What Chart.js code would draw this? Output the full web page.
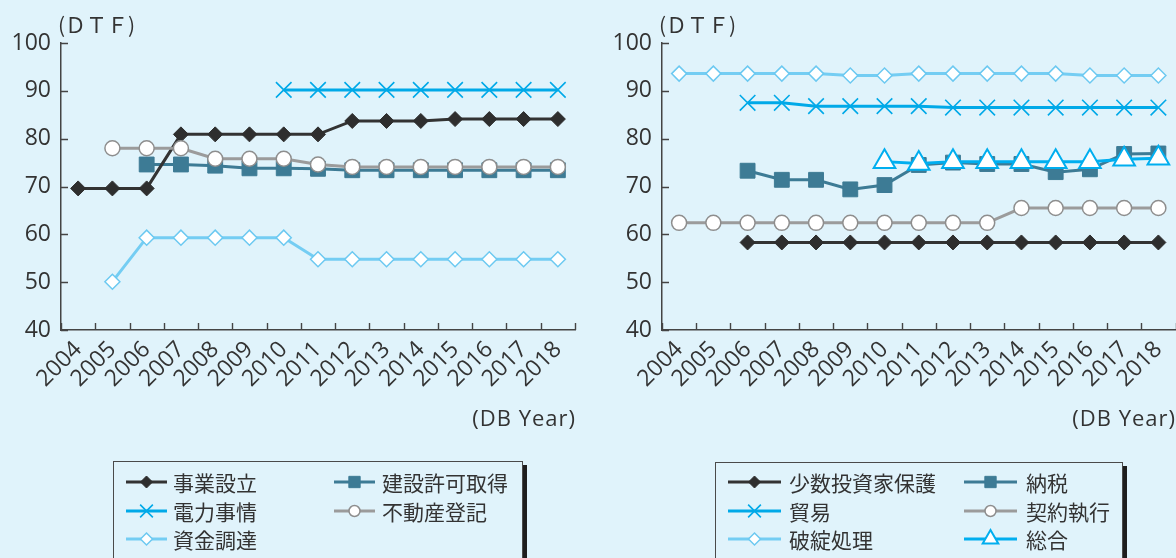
<!DOCTYPE html>
<html lang="ja">
<head>
<meta charset="utf-8">
<title>DTF</title>
<script src="https://cdn.jsdelivr.net/npm/chart.js@4.4.1/dist/chart.umd.min.js"></script>
<style>
  html, body { margin: 0; padding: 0; background: #e0f3fb; }
  #wrap { position: relative; width: 1176px; height: 558px; overflow: hidden; background: #e0f3fb; }
  canvas { position: absolute; top: 0; }
  #left { left: 0; }
  #right { left: 590px; }
</style>
</head>
<body>
<div id="wrap">
  <canvas id="left" width="590" height="558"></canvas>
  <canvas id="right" width="600" height="558"></canvas>
</div>
<script>
// Categories and axis ticks
const years = ['2004','2005','2006','2007','2008','2009','2010','2011','2012','2013','2014','2015','2016','2017','2018'];
const yTickValues = [40, 50, 60, 70, 80, 90, 100];
const yUnitLabel = '(ＤＴＦ)';
const xUnitLabel = '(DB Year)';

// Left panel series
const startingBusiness     = [69.6, 69.6, 69.6, 80.9, 80.9, 80.9, 80.9, 80.9, 83.7, 83.7, 83.7, 84.1, 84.1, 84.1, 84.1];
const constructionPermits  = [null, null, 74.6, 74.6, 74.35, 73.8, 73.8, 73.7, 73.4, 73.4, 73.4, 73.4, 73.4, 73.4, 73.4];
const gettingElectricity   = [null, null, null, null, null, null, 90.2, 90.2, 90.2, 90.2, 90.2, 90.2, 90.2, 90.2, 90.2];
const registeringProperty  = [null, 78.0, 78.0, 78.0, 75.8, 75.8, 75.8, 74.6, 74.1, 74.1, 74.1, 74.1, 74.1, 74.1, 74.1];
const gettingCredit        = [null, 50.1, 59.3, 59.3, 59.3, 59.3, 59.3, 54.8, 54.8, 54.8, 54.8, 54.8, 54.8, 54.8, 54.8];

// Right panel series
const protectingInvestors  = [null, null, 58.3, 58.3, 58.3, 58.3, 58.3, 58.3, 58.3, 58.3, 58.3, 58.3, 58.3, 58.3, 58.3];
const payingTaxes          = [null, null, 73.3, 71.4, 71.4, 69.4, 70.3, 74.5, 75.0, 74.7, 74.7, 73.0, 73.6, 76.8, 76.9];
const tradingAcrossBorders = [null, null, 87.5, 87.5, 86.8, 86.8, 86.8, 86.8, 86.5, 86.5, 86.5, 86.5, 86.5, 86.5, 86.5];
const enforcingContracts   = [62.4, 62.4, 62.4, 62.4, 62.4, 62.4, 62.4, 62.4, 62.4, 62.4, 65.5, 65.5, 65.5, 65.5, 65.5];
const resolvingInsolvency  = [93.6, 93.6, 93.6, 93.6, 93.6, 93.2, 93.2, 93.6, 93.6, 93.6, 93.6, 93.6, 93.2, 93.2, 93.2];
const overallScore         = [null, null, null, null, null, null, 75.2, 74.8, 75.2, 75.2, 75.2, 75.2, 75.2, 75.7, 75.9];

// Marker / line looks
const looks = {
  dark:  { borderColor: '#333333', pointStyle: 'rectRot',  pointRadius: 7.5, pointBackgroundColor: '#2e2e2e', pointBorderColor: '#2e2e2e', pointBorderWidth: 1,   legendRadius: 6 },
  teal:  { borderColor: '#3d7b95', pointStyle: 'rect',     pointRadius: 10.5, pointBackgroundColor: '#3d7b95', pointBorderColor: '#3d7b95', pointBorderWidth: 1, legendRadius: 8 },
  cross: { borderColor: '#00a9e8', pointStyle: 'crossRot', pointRadius: 11,  pointBackgroundColor: '#00a9e8', pointBorderColor: '#00a9e8', pointBorderWidth: 1.6, legendRadius: 9 },
  grey:  { borderColor: '#9b9b9b', pointStyle: 'circle',   pointRadius: 7.5, pointBackgroundColor: '#ffffff', pointBorderColor: '#8e8e8e', pointBorderWidth: 1.5, legendRadius: 5.5 },
  sky:   { borderColor: '#74cdf3', pointStyle: 'rectRot',  pointRadius: 7.5, pointBackgroundColor: '#ffffff', pointBorderColor: '#6cc9f1', pointBorderWidth: 1.5, legendRadius: 6 },
  tri:   { borderColor: '#00aeef', pointStyle: 'triangle', pointRadius: 12.5, pointBackgroundColor: '#ffffff', pointBorderColor: '#00aeef', pointBorderWidth: 2, legendRadius: 9 }
};

function series(label, data, look, order) {
  return Object.assign({ label, data, order, borderWidth: 3, tension: 0, spanGaps: false,
    pointHoverRadius: look.pointRadius }, look);
}

const FONT = "'Open Sans', 'Noto Sans', sans-serif";
const JP_FONT = "'Noto Sans CJK JP', sans-serif";

// Inward tick marks, unit captions and the boxed legend
const panelDecor = {
  id: 'panelDecor',
  afterDraw(chart, args, o) {
    const { ctx, chartArea: a, scales: { x, y } } = chart;
    ctx.save();
    ctx.strokeStyle = '#444';
    ctx.lineWidth = 1.4;
    ctx.beginPath();
    const n = x.ticks.length;
    const step = (a.right - a.left) / n;
    for (let i = 0; i <= n; i++) {
      const px = Math.round(a.left + i * step) + 0.5;
      ctx.moveTo(px, a.bottom);
      ctx.lineTo(px, a.bottom - 7);
    }
    y.ticks.forEach(t => {
      const py = Math.round(y.getPixelForValue(t.value)) + 0.5;
      ctx.moveTo(a.left, py);
      ctx.lineTo(a.left + 7, py);
    });
    ctx.stroke();

    ctx.fillStyle = '#333';
    ctx.textBaseline = 'alphabetic';
    ctx.textAlign = 'left';
    ctx.font = '21px ' + JP_FONT;
    ctx.fillText(yUnitLabel, a.left - 3, 33);
    ctx.textAlign = 'right';
    ctx.font = '22px ' + FONT;
    if ('letterSpacing' in ctx) ctx.letterSpacing = '1px';
    ctx.fillText(xUnitLabel, o.xUnitRight, 426);
    if ('letterSpacing' in ctx) ctx.letterSpacing = '0px';

    // legend box with a dark drop edge
    const L = o.legend;
    ctx.fillStyle = '#1e1e1e';
    ctx.fillRect(L.right, L.top + 4, 4, 200);
    ctx.fillStyle = '#e0f3fb';
    ctx.fillRect(L.left, L.top, L.right - L.left, 200);
    ctx.strokeStyle = '#4a4a4a';
    ctx.lineWidth = 1;
    ctx.strokeRect(L.left + 0.5, L.top + 0.5, L.right - L.left - 1, 200);

    chart.data.datasets.forEach((ds, i) => {
      const col = i % 2, row = Math.floor(i / 2);
      const [x0, x1] = L.lines[col];
      const yy = L.rows[row];
      ctx.strokeStyle = ds.borderColor;
      ctx.lineWidth = 3;
      ctx.beginPath();
      ctx.moveTo(x0, yy);
      ctx.lineTo(x1, yy);
      ctx.stroke();
      ctx.fillStyle = ds.pointBackgroundColor;
      ctx.strokeStyle = ds.pointBorderColor;
      ctx.lineWidth = ds.pointBorderWidth;
      Chart.helpers.drawPoint(ctx, { pointStyle: ds.pointStyle, radius: ds.legendRadius,
        borderWidth: ds.pointBorderWidth, rotation: 0 }, (x0 + x1) / 2, yy);
      ctx.fillStyle = '#333';
      ctx.font = '21px ' + JP_FONT;
      ctx.textAlign = 'left';
      ctx.textBaseline = 'middle';
      ctx.fillText(ds.label, L.text[col], yy + 1);
    });
    ctx.restore();
  }
};

function panel(canvasId, datasets, geo) {
  return new Chart(document.getElementById(canvasId), {
    type: 'line',
    data: { labels: years, datasets },
    plugins: [panelDecor],
    options: {
      responsive: false,
      animation: false,
      devicePixelRatio: 1,
      layout: { padding: { top: 43, left: 0, right: geo.padRight, bottom: 0 } },
      plugins: {
        legend: { display: false },
        tooltip: { enabled: false },
        panelDecor: geo.decor
      },
      scales: {
        x: {
          type: 'category',
          offset: true,
          grid: { display: false, drawTicks: false },
          border: { display: true, color: '#444', width: 1.5 },
          ticks: { autoSkip: false, minRotation: 45, maxRotation: 45, padding: 6,
                   color: '#333', font: { family: FONT, size: 23 } },
          afterFit(s) { s.height = 558 - 330; }
        },
        y: {
          min: 40, max: 100,
          afterBuildTicks(s) { s.ticks = yTickValues.map(v => ({ value: v })); },
          grid: { display: false, drawTicks: false },
          border: { display: true, color: '#444', width: 1.5 },
          ticks: { padding: 10, color: '#333', font: { family: FONT, size: 23 } },
          afterFit(s) { s.width = geo.axisWidth; }
        }
      }
    }
  });
}

panel('left', [
  series('事業設立', startingBusiness, looks.dark, 1),
  series('建設許可取得', constructionPermits, looks.teal, 2),
  series('電力事情', gettingElectricity, looks.cross, 3),
  series('不動産登記', registeringProperty, looks.grey, 0),
  series('資金調達', gettingCredit, looks.sky, 3)
], {
  axisWidth: 61, padRight: 15,
  decor: {
    xUnitRight: 576,
    legend: { left: 113, right: 523, top: 461, lines: [[126, 167], [334, 375]], text: [173, 382], rows: [482, 511, 539] }
  }
});

panel('right', [
  series('少数投資家保護', protectingInvestors, looks.dark, 2),
  series('納税', payingTaxes, looks.teal, 1),
  series('貿易', tradingAcrossBorders, looks.cross, 2),
  series('契約執行', enforcingContracts, looks.grey, 2),
  series('破綻処理', resolvingInsolvency, looks.sky, 2),
  series('総合', overallScore, looks.tri, 0)
], {
  axisWidth: 72, padRight: 12,
  decor: {
    xUnitRight: 586,
    legend: { left: 125, right: 533, top: 462, lines: [[138, 191], [374, 427]], text: [199, 436], rows: [482, 511, 539] }
  }
});
</script>
</body>
</html>
